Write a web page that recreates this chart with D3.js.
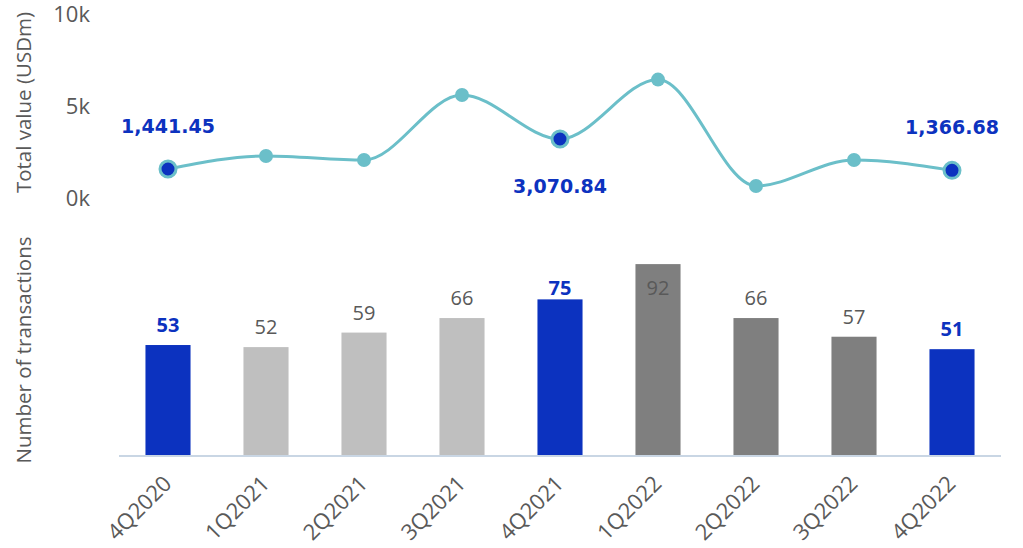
<!DOCTYPE html>
<html>
<head>
<meta charset="utf-8">
<script src="https://cdn.jsdelivr.net/npm/d3@7"></script>
<style>
  html, body { margin: 0; padding: 0; background: #fff; }
  svg { display: block; font-family: 'Open Sans', sans-serif; }
</style>
</head>
<body>
<svg id="chart"></svg>
<script>
// quarters on the x axis
const quarters = ['4Q2020', '1Q2021', '2Q2021', '3Q2021', '4Q2021', '1Q2022', '2Q2022', '3Q2022', '4Q2022'];
// total deal value, USDm (line)
const totalValue = [1441.45, 2150, 1930, 5460, 3070.84, 6300, 520, 1930, 1366.68];
// number of transactions (bars)
const transactions = [53, 52, 59, 66, 75, 92, 66, 57, 51];
// which quarters are highlighted (blue)
const highlight = [true, false, false, false, true, false, false, false, true];
// bar colour group: 'hi', 'prev' (2021), 'curr' (2022)
const barGroup = ['hi', 'prev', 'prev', 'prev', 'hi', 'curr', 'curr', 'curr', 'hi'];
// value labels shown on the line, with side
const lineLabelSide = ['above', null, null, null, 'below', null, null, null, 'above'];
const valueTicks = [0, 5000, 10000];

const width = 1023, height = 548;
const colors = { hi: '#0c32bf', prev: '#bfbfbf', curr: '#7f7f7f', line: '#6bbfc9', text: '#595959', axis: '#c9d6e4' };

const svg = d3.select('#chart').attr('width', width).attr('height', height);

const x = d3.scaleBand().domain(quarters).range([119, 1001]).paddingInner(0.54).paddingOuter(0.27);
const xc = d => x(d) + x.bandwidth() / 2;

// top panel: line
const yLine = d3.scaleLinear().domain([0, 10000]).range([195.5, 11.5]);
// bottom panel: bars
const yBar = d3.scaleLinear().domain([0, 100]).range([455, 247.5]);

// axis titles
svg.append('text')
  .attr('transform', `translate(31, ${yLine(5000) - 1}) rotate(-90)`)
  .attr('text-anchor', 'middle')
  .attr('fill', colors.text)
  .style('font-size', '20.5px')
  .text('Total value (USDm)');

svg.append('text')
  .attr('transform', `translate(31, 350) rotate(-90)`)
  .attr('text-anchor', 'middle')
  .attr('fill', colors.text)
  .style('font-size', '20.5px')
  .text('Number of transactions');

// value axis labels
svg.append('g').selectAll('text')
  .data(valueTicks).join('text')
  .attr('x', 90)
  .attr('y', d => yLine(d) + 10)
  .attr('text-anchor', 'end')
  .attr('fill', colors.text)
  .style('font-size', '22px')
  .text(d => d3.format('d')(d / 1000) + 'k');

// bars
svg.append('g').selectAll('rect')
  .data(transactions).join('rect')
  .attr('x', (d, i) => x(quarters[i]))
  .attr('width', x.bandwidth())
  .attr('y', d => yBar(d))
  .attr('height', d => yBar(0) - yBar(d))
  .attr('fill', (d, i) => colors[barGroup[i]]);

// bar labels (pushed inside bar if it would run into the line panel)
svg.append('g').selectAll('text')
  .data(transactions).join('text')
  .attr('x', (d, i) => xc(quarters[i]))
  .attr('y', d => Math.max(yBar(d) - 13, 295))
  .attr('text-anchor', 'middle')
  .attr('fill', (d, i) => highlight[i] ? colors.hi : colors.text)
  .style('font-size', (d, i) => highlight[i] ? '20px' : '20px')
  .style('font-weight', (d, i) => highlight[i] ? 700 : 400)
  .text(d => d);

// baseline
svg.append('line')
  .attr('x1', 119).attr('x2', 1001)
  .attr('y1', yBar(0) + 1).attr('y2', yBar(0) + 1)
  .attr('stroke', colors.axis)
  .attr('stroke-width', 2);

// x axis labels
svg.append('g').selectAll('text')
  .data(quarters).join('text')
  .attr('transform', d => `translate(${xc(d) + 5}, 485) rotate(-45)`)
  .attr('text-anchor', 'end')
  .attr('fill', colors.text)
  .style('font-size', '22px')
  .text(d => d);

// line
const line = d3.line()
  .x((d, i) => xc(quarters[i]))
  .y(d => yLine(d))
  .curve(d3.curveMonotoneX);

svg.append('path')
  .datum(totalValue)
  .attr('d', line)
  .attr('fill', 'none')
  .attr('stroke', colors.line)
  .attr('stroke-width', 3);

svg.append('g').selectAll('circle')
  .data(totalValue).join('circle')
  .attr('cx', (d, i) => xc(quarters[i]))
  .attr('cy', d => yLine(d))
  .attr('r', (d, i) => highlight[i] ? 8 : 7)
  .attr('fill', (d, i) => highlight[i] ? colors.hi : colors.line)
  .attr('stroke', colors.line)
  .attr('stroke-width', (d, i) => highlight[i] ? 3 : 0);

// line value labels
svg.append('g').selectAll('text')
  .data(totalValue.map((v, i) => ({ v, i })).filter(d => lineLabelSide[d.i]))
  .join('text')
  .attr('x', d => xc(quarters[d.i]))
  .attr('y', d => yLine(d.v) + (lineLabelSide[d.i] === 'above' ? -36 : 54))
  .attr('text-anchor', 'middle')
  .attr('fill', colors.hi)
  .style('font-family', "'DejaVu Sans', sans-serif")
  .style('font-size', '19px')
  .style('font-weight', 700)
  .text(d => d3.format(',.2f')(d.v));
</script>
</body>
</html>
